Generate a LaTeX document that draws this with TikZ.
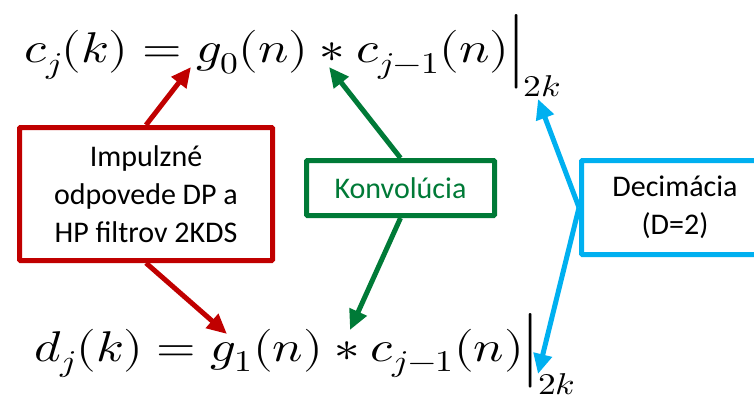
\documentclass[tikz,border=0pt]{standalone}
\usepackage{graphicx}
\usepackage{fontspec}
\usepackage{unicode-math}
\setmathfont{Latin Modern Math}
\setmainfont{Carlito}
\usetikzlibrary{arrows.meta}
\definecolor{boxred}{RGB}{192,0,0}
\definecolor{boxgreen}{RGB}{0,122,55}
\definecolor{boxblue}{RGB}{0,176,240}
\newcommand{\wideeq}[1]{\scalebox{1.18}[1]{$#1$}}
\begin{document}
\begin{tikzpicture}[x=1pt,y=-1pt,
  eq/.style={anchor=base west, inner sep=0pt, font=\fontsize{43}{50}\selectfont},
  tagbox/.style={draw, line width=5pt, fill=white, align=center, inner sep=0pt,
    font=\fontsize{30}{38}\selectfont, rounded corners=1pt},
  pointarrow/.style={line width=5pt, -{Triangle[length=20pt,width=18pt]}}]
\useasboundingbox (0,0) rectangle (754,400);
\clip (0,0) rectangle (754,400);

% the two filter-bank equations
\node[eq] (eqc) at (24,62.75) {\wideeq{c_j(k) = g_0(n) * c_{j-1}(n)\Big|_{2k}}};
\node[eq] (eqd) at (34,361) {\wideeq{d_j(k) = g_1(n) * c_{j-1}(n)\Big|_{2k}}};

% arrow targets inside the equations
\coordinate (rtipA) at (191,67);
\coordinate (rtipB) at (227,334);
\coordinate (gtipA) at (329,67);
\coordinate (gtipB) at (350,330);
\coordinate (btipA) at (538,99);
\coordinate (btipB) at (538,374);

% explanation boxes
\node[tagbox, draw=boxred, minimum width=253pt, minimum height=133pt] (imp) at (146,194)
  {Impulzné\\odpovede DP a\\HP filtrov 2KDS};
\node[tagbox, draw=boxgreen, text=boxgreen, minimum width=188pt, minimum height=55pt] (konv) at (400.5,188)
  {Konvolúcia};
\node[tagbox, draw=boxblue, minimum width=187pt, minimum height=94pt] (dec) at (675,207.5)
  {Decimácia\\(D=2)};

% pointers from boxes to the equation terms
\draw[pointarrow, boxred] (imp.north) -- (rtipA);
\draw[pointarrow, boxred] (imp.south) -- (rtipB);
\draw[pointarrow, boxgreen] (konv.north) -- (gtipA);
\draw[pointarrow, boxgreen] (konv.south) -- (gtipB);
\draw[pointarrow, boxblue] (dec.west) -- (btipA);
\draw[pointarrow, boxblue] (dec.west) -- (btipB);
\end{tikzpicture}
\end{document}
